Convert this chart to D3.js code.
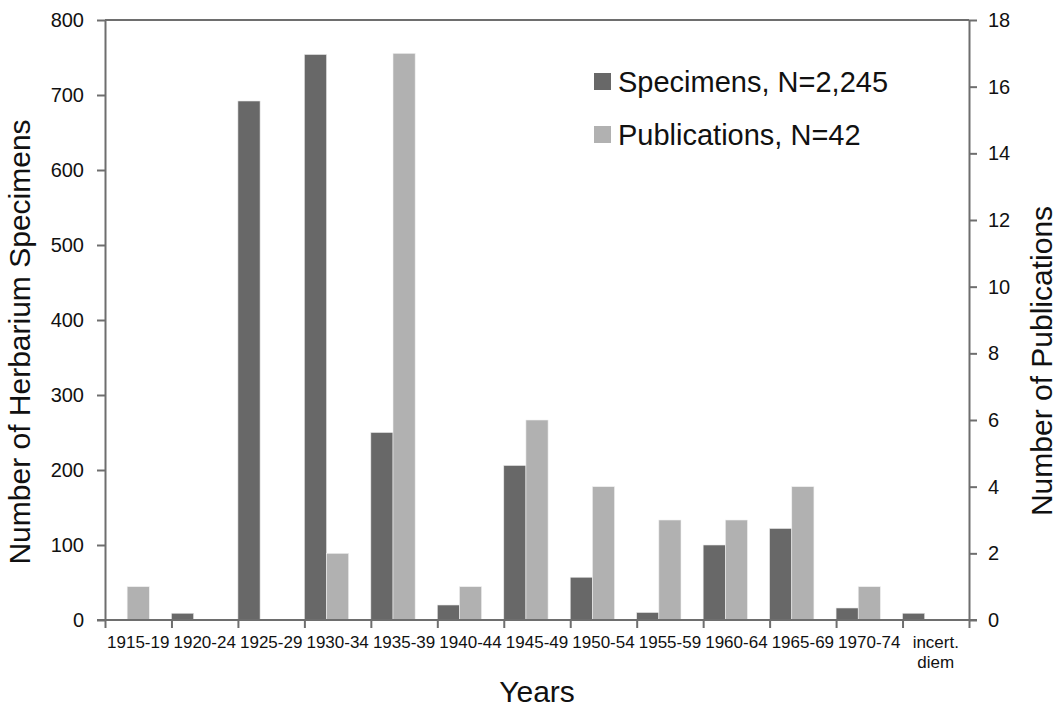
<!DOCTYPE html>
<html>
<head>
<meta charset="utf-8">
<title>Specimens and publications by period</title>
<script src="https://d3js.org/d3.v7.min.js"></script>
<style>
  body { margin: 0; background: #fff; }
  svg text { font-family: "Liberation Sans", Arial, sans-serif; fill: #111; }
  .axis path, .axis line { stroke: #6e6e6e; stroke-width: 2; }
</style>
</head>
<body>
<script>
// periods on the x axis
var categories = ["1915-19", "1920-24", "1925-29", "1930-34", "1935-39", "1940-44",
                  "1945-49", "1950-54", "1955-59", "1960-64", "1965-69", "1970-74",
                  "incert.\ndiem"];
// herbarium specimens (left axis)
var specimens = [0, 9, 692, 754, 250, 20, 206, 57, 10, 100, 122, 16, 9];
// publications (right axis)
var publications = [1, 0, 0, 2, 17, 1, 6, 4, 3, 3, 4, 1, 0];
var leftTicks = [0, 100, 200, 300, 400, 500, 600, 700, 800];
var rightTicks = [0, 2, 4, 6, 8, 10, 12, 14, 16, 18];
var legendLabels = ["Specimens, N=2,245", "Publications, N=42"];

var width = 1060, height = 710;
var plotLeft = 105, plotRight = 969, plotTop = 20, plotBottom = 620;
var colSpec = "#686868", colPub = "#b1b1b1";

var svg = d3.select("body").append("svg")
    .attr("width", width)
    .attr("height", height);

var x = d3.scaleBand().domain(categories).range([plotLeft, plotRight]).padding(0);
var xEdge = d3.scaleLinear().domain([0, categories.length]).range([plotLeft, plotRight]);
var yL = d3.scaleLinear().domain([0, 800]).range([plotBottom, plotTop]);
var yR = d3.scaleLinear().domain([0, 18]).range([plotBottom, plotTop]);
var bw = x.bandwidth() / 3;

// top border of the plot area
svg.append("line")
    .attr("x1", plotLeft).attr("x2", plotRight)
    .attr("y1", plotTop).attr("y2", plotTop)
    .attr("stroke", "#6e6e6e").attr("stroke-width", 2);

// bars
svg.selectAll("rect.spec")
    .data(specimens)
    .enter().append("rect")
    .attr("class", "spec")
    .attr("x", function(d, i) { return x(categories[i]); })
    .attr("width", bw)
    .attr("y", function(d) { return yL(d); })
    .attr("height", function(d) { return yL(0) - yL(d); })
    .attr("fill", colSpec)
    .attr("stroke", "#e8e8e8").attr("stroke-width", 0.6);

svg.selectAll("rect.pub")
    .data(publications)
    .enter().append("rect")
    .attr("class", "pub")
    .attr("x", function(d, i) { return x(categories[i]) + bw; })
    .attr("width", bw)
    .attr("y", function(d) { return yR(d); })
    .attr("height", function(d) { return yR(0) - yR(d); })
    .attr("fill", colPub)
    .attr("stroke", "#f0f0f0").attr("stroke-width", 0.6);

// left axis
var gL = svg.append("g").attr("class", "axis")
    .attr("transform", "translate(" + plotLeft + ",0)")
    .call(d3.axisLeft(yL).tickValues(leftTicks).tickSize(8).tickSizeOuter(0).tickPadding(13));
gL.selectAll("text").style("font-size", "20px");

// right axis
var gR = svg.append("g").attr("class", "axis")
    .attr("transform", "translate(" + plotRight + ",0)")
    .call(d3.axisRight(yR).tickValues(rightTicks).tickSize(8).tickSizeOuter(0).tickPadding(11));
gR.selectAll("text").style("font-size", "20px");

// x axis: ticks at category edges
var gX = svg.append("g").attr("class", "axis")
    .attr("transform", "translate(0," + plotBottom + ")")
    .call(d3.axisBottom(xEdge).tickValues(d3.range(categories.length + 1))
        .tickSize(8).tickSizeOuter(0).tickFormat(""));
gX.select("path").attr("d", "M" + (plotLeft - 8) + ",0H" + (plotRight + 8));

// x labels
var gXL = svg.append("g")
    .attr("transform", "translate(0," + plotBottom + ")")
    .call(d3.axisBottom(x).tickSize(0).tickPadding(0));
gXL.select("path").remove();
gXL.selectAll("text").each(function(d) {
    var t = d3.select(this);
    var lines = d.split("\n");
    t.text(null).attr("y", 0).attr("dy", null)
        .style("font-size", "17px");
    lines.forEach(function(s, k) {
        t.append("tspan").attr("x", 0).attr("y", 28 + k * 20).text(s);
    });
});

// axis titles
svg.append("text")
    .attr("transform", "translate(30,342) rotate(-90)")
    .attr("text-anchor", "middle")
    .style("font-size", "30px")
    .text("Number of Herbarium Specimens");

svg.append("text")
    .attr("transform", "translate(1052,361) rotate(-90)")
    .attr("text-anchor", "middle")
    .style("font-size", "30px")
    .text("Number of Publications");

svg.append("text")
    .attr("x", 537).attr("y", 702)
    .attr("text-anchor", "middle")
    .style("font-size", "30px")
    .text("Years");

// legend
var leg = svg.selectAll("g.leg")
    .data(legendLabels)
    .enter().append("g")
    .attr("class", "leg")
    .attr("transform", function(d, i) { return "translate(594," + (73 + i * 53) + ")"; });
leg.append("rect")
    .attr("width", 17).attr("height", 17)
    .attr("fill", function(d, i) { return i === 0 ? colSpec : colPub; });
leg.append("text")
    .attr("x", 24).attr("y", 19)
    .style("font-size", "29px")
    .text(function(d) { return d; });
</script>
</body>
</html>
